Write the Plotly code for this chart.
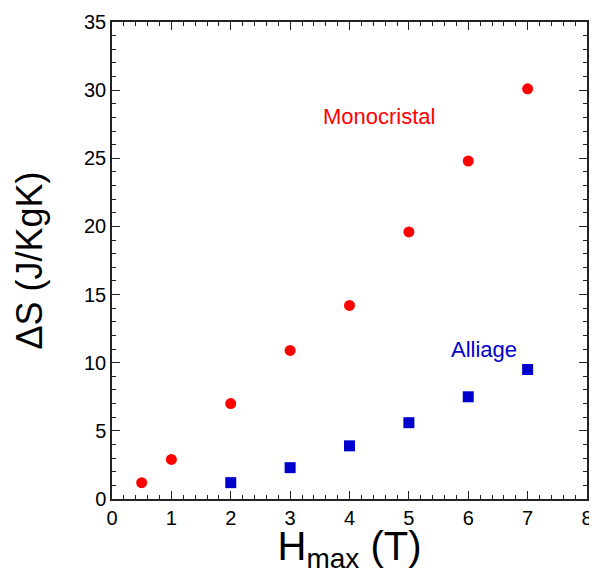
import plotly.graph_objects as go

mono_x = [0.5, 1, 2, 3, 4, 5, 6, 7]
mono_y = [1.2, 2.9, 7.0, 10.9, 14.2, 19.6, 24.8, 30.1]
all_x = [2, 3, 4, 5, 6, 7]
all_y = [1.2, 2.3, 3.9, 5.6, 7.5, 9.5]

FONT = "Liberation Sans, Arial, Helvetica"

fig = go.Figure()
fig.add_trace(go.Scatter(x=mono_x, y=mono_y, mode="markers",
                         marker=dict(symbol="circle", size=11, color="#ff0000"),
                         name="Monocristal"))
fig.add_trace(go.Scatter(x=all_x, y=all_y, mode="markers",
                         marker=dict(symbol="square", size=11, color="#0000cc"),
                         name="Alliage"))

fig.add_annotation(x=4.49, y=28.1, text="Monocristal", showarrow=False,
                   font=dict(size=22, color="#ff0000", family=FONT))
fig.add_annotation(x=6.26, y=11.0, text="Alliage", showarrow=False,
                   font=dict(size=22, color="#0000cc", family=FONT))

axis_common = dict(showgrid=False, zeroline=False, showline=True, linecolor="#222",
                   linewidth=1.5, mirror="allticks", ticks="inside", ticklen=8,
                   tickcolor="#222", tickwidth=1, automargin=False,
                   tickfont=dict(size=20, color="black", family=FONT))

fig.update_layout(
    width=585, height=566,
    margin=dict(l=104, r=6, t=14, b=75),
    plot_bgcolor="white", paper_bgcolor="white",
    showlegend=False,
    font=dict(family=FONT, color="black"),
    xaxis=dict(range=[0, 8], dtick=1, tick0=0,
               minor=dict(dtick=0.2, ticks="inside", ticklen=4, tickcolor="#222"),
               title=dict(text="H<sub>max</sub> (T)", font=dict(size=40), standoff=0),
               **axis_common),
    yaxis=dict(range=[0, 35], dtick=5, tick0=0,
               minor=dict(dtick=1, ticks="inside", ticklen=4, tickcolor="#222"),
               title=dict(text="ΔS (J/KgK)", font=dict(size=36), standoff=30),
               **axis_common),
)

fig.write_html("out.html")
